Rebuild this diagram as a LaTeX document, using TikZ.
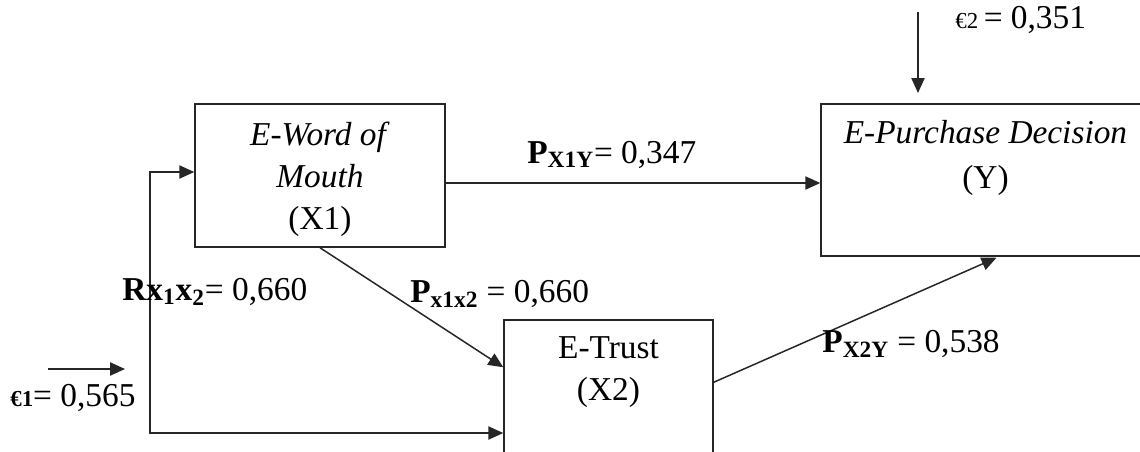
\documentclass[tikz,border=0pt]{standalone}
\usepackage{fontspec}
\setmainfont{Liberation Serif}
\usetikzlibrary{arrows.meta,calc}

\begin{document}
\begin{tikzpicture}[x=0.02cm,y=-0.02cm,
	every node/.style={font=\fontsize{19}{24}\selectfont},
	box/.style={draw=black!85,line width=0.85pt,rectangle,inner sep=0pt},
	txt/.style={anchor=north,inner sep=0pt,align=center},
	arr/.style={draw=black!85,line width=0.85pt,-{Triangle[length=8.5pt,width=7.5pt]}},
	lbl/.style={anchor=base west,inner sep=0pt}]

	\clip (0,0) rectangle (1140,451);

%	boxes
	\node[box,minimum width=5cm,minimum height=2.86cm] (x1) at (320,175.5) {};
	\node[box,minimum width=6.58cm,minimum height=3.04cm] (y) at (985.5,180) {};
	\node[box,minimum width=4.18cm,minimum height=3cm] (x2) at (608.5,395) {};

	\node[txt] (x1txt) at ($(x1.north)+(0,18)$) {\textit{E-Word of}\\\textit{Mouth}\\(X1)};
	\node[txt] (ytxt) at ($(y.north)+(0,17)$) {\textit{E-Purchase Decision}\\[1.5pt](Y)};
	\node[txt] (x2txt) at ($(x2.north)+(0,17)$) {E-Trust\\(X2)};

%	paths
	\draw[arr] ($(x1.east)+(0,7.5)$) -- ($(x1.east -| y.west)+(0,7.5)$);
	\draw[arr] (x1.south) -- ($(x2.north west)+(0,48)$);
	\draw[arr] ($(x2.north east)+(0,63)$) -- ($(y.south)+(11,1)$);

	\coordinate (corner) at (150,433);
	\draw[arr,{Triangle[length=8.5pt,width=7.5pt]}-{Triangle[length=8.5pt,width=7.5pt]}] ($(x1.west)+(0,-3.5)$) -| (corner) -- (corner -| x2.west);

	\coordinate (e1a) at (48,369);
	\coordinate (e1b) at (125,369);
	\draw[arr] (e1a) -- (e1b);
	\coordinate (e2a) at (918,12);
	\coordinate (e2b) at (918,93);
	\draw[arr] (e2a) -- (e2b);

%	coefficients
	\node[lbl] (e2) at (955,28) {{\fontsize{13}{13}\selectfont €2}\,= 0,351};
	\node[lbl] (pxy) at (527,163) {\textbf{P}\textsubscript{\textbf{X1Y}}= 0,347};
	\node[lbl] (rxx) at (122,300) {\textbf{Rx\textsubscript{1}x\textsubscript{2}}= 0,660};
	\node[lbl] (pxx) at (410,302) {\textbf{P}\textsubscript{\textbf{x1x2}} = 0,660};
	\node[lbl] (pxy2) at (822,352) {\textbf{P}\textsubscript{\textbf{X2Y}} = 0,538};
	\node[lbl] (e1) at (10,406) {{\fontsize{13}{13}\selectfont\textbf{€1}}= 0,565};

\end{tikzpicture}
\end{document}
